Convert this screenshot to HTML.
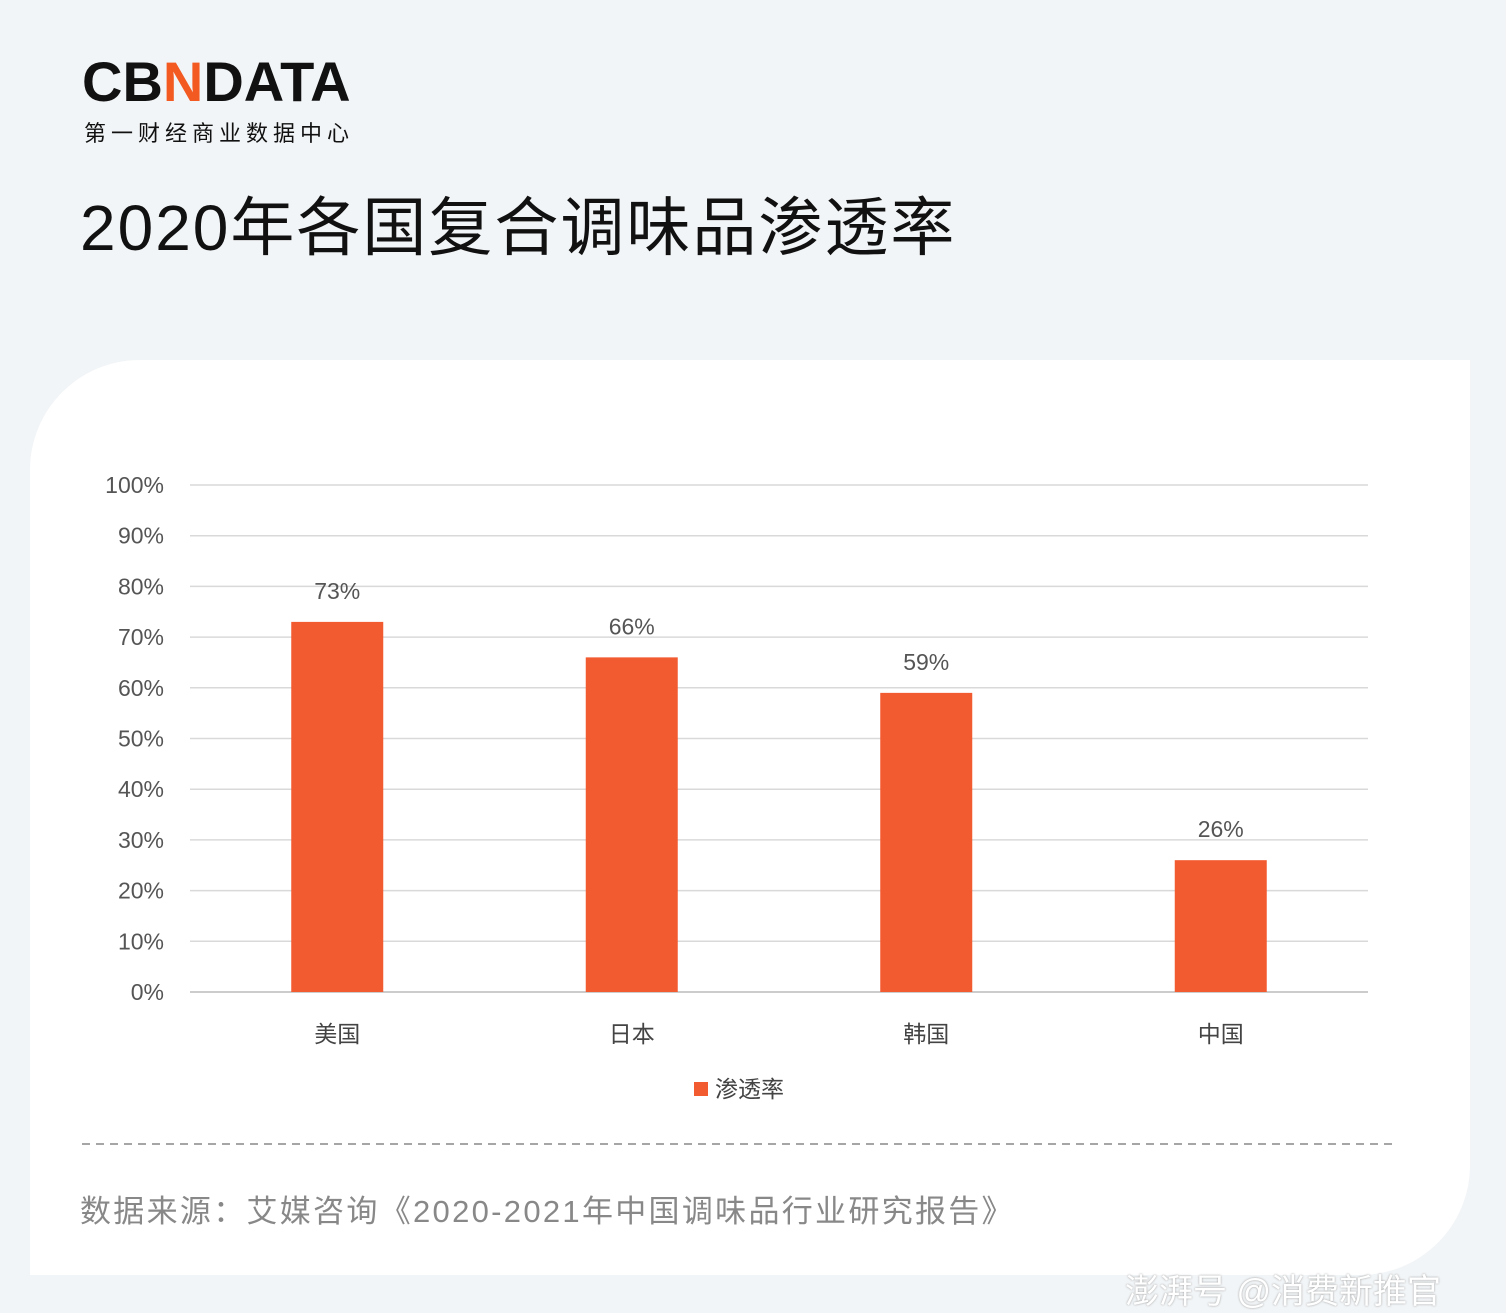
<!DOCTYPE html>
<html><head><meta charset="utf-8"><style>
body{margin:0;width:1506px;height:1312px;background:#f2f5f7;position:relative;overflow:hidden;font-family:"Liberation Sans","Noto Sans CJK SC",sans-serif}
.abs{position:absolute}
</style></head><body>
<div class="abs" style="left:82px;top:52px;font-size:56px;font-weight:bold;letter-spacing:0px;color:#111;line-height:60px">CB<span style="color:#f25a22">N</span>DATA</div>
<div class="abs" style="left:84px;top:116px;font-size:22px;letter-spacing:5px;color:#111">第一财经商业数据中心</div>
<div class="abs" style="left:80px;top:188px;font-size:64px;letter-spacing:2px;color:#111;line-height:80px">2020年各国复合调味品渗透率</div>
<div class="abs" style="left:30px;top:360px;width:1440px;height:915px;background:#fff;border-radius:110px 0 110px 0"></div>
<svg class="abs" style="left:0;top:0" width="1506" height="1312">
<g id="g"></g>
<rect x="694" y="1082" width="14" height="14" fill="#f25a30"/>
<text x="715" y="1097" font-size="23" fill="#444">渗透率</text>
<line x1="82" y1="1144" x2="1392" y2="1144" stroke="#888" stroke-width="1.5" stroke-dasharray="8,6"/>
</svg>
<div class="abs" style="left:80px;top:1186px;font-size:31px;letter-spacing:2.3px;color:#888">数据来源：艾媒咨询《2020-2021年中国调味品行业研究报告》</div>
<div class="abs" style="left:1125px;top:1264px;font-size:34px;color:#fff;text-shadow:0 0 2px #999">澎湃号 @消费新推官</div>
<script>
const categories=["美国","日本","韩国","中国"];
const values=[73,66,59,26];
const ticks=[0,10,20,30,40,50,60,70,80,90,100];
const g=document.getElementById('g');const NS="http://www.w3.org/2000/svg";
const x0=190,x1=1368,yb=992,yt=485;
const y=v=>yb-(v/100)*(yb-yt);
const bw=(x1-x0)/categories.length;
const cx=i=>x0+bw*(i+0.5);
function mk(t,a,txt){const e=document.createElementNS(NS,t);for(const k in a)e.setAttribute(k,a[k]);if(txt!=null)e.textContent=txt;g.appendChild(e);return e;}
ticks.forEach(t=>{
const l=mk('line',{x1:x0,x2:x1,y1:y(t),y2:y(t),stroke:t===0?'#bbb':'#d9d9d9','stroke-width':1.5});


const tx=mk('text',{x:164,y:y(t)+8,'font-size':23,fill:'#555','text-anchor':'end'},t+'%');


});
categories.forEach((c,i)=>{
const b=mk('rect',{x:cx(i)-46,y:y(values[i]),width:92,height:yb-y(values[i]),fill:'#f25a30'});


const v=mk('text',{x:cx(i),y:y(values[i])-23,'font-size':23,fill:'#555','text-anchor':'middle'},values[i]+'%');


const cl=mk('text',{x:cx(i),y:1042,'font-size':23,fill:'#444','text-anchor':'middle'},c);


});
</script>
</body></html>
